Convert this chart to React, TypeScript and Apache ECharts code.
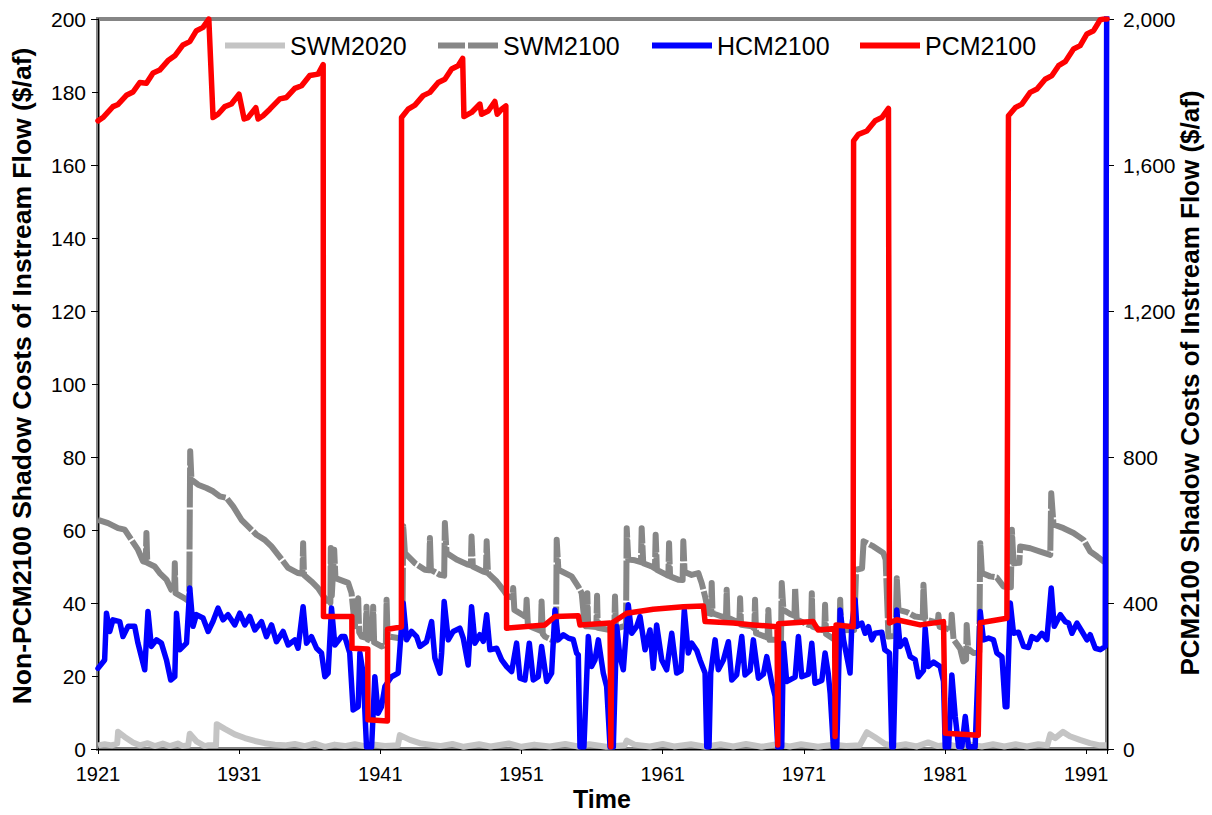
import React, { useEffect, useRef } from "react";
import * as echarts from "echarts";

const FONT = "'Liberation Sans', Arial, Helvetica, sans-serif";

// Time axis runs in years; plotted as offsets from the first water year.
const BASE_YEAR = 1921;
const LAST_YEAR = 1992.47;
const xTickYears = [1921, 1931, 1941, 1951, 1961, 1971, 1981, 1991];
const leftTicks = [0, 20, 40, 60, 80, 100, 120, 140, 160, 180, 200];
const rightTicks = [0, 400, 800, 1200, 1600, 2000];

const seriesNames = ["SWM2020", "SWM2100", "HCM2100", "PCM2100"];
const seriesColors = ["#c4c4c4", "#878787", "#0000ff", "#ff0000"];

// [year, $/af] — left axis
const swm2020: [number, number][] = [
  [1921.0, 1.0], [1921.47, 1.3], [1921.97, 1.0], [1922.36, 1.5], [1922.42, 4.7], [1922.89, 3.3],
  [1923.48, 1.8], [1923.96, 1.0], [1924.52, 1.6], [1925.02, 0.8], [1925.59, 1.5], [1926.08, 0.8],
  [1926.65, 1.5], [1927.0, 0.8], [1927.39, 1.0], [1927.5, 4.2], [1928.0, 2.0], [1928.56, 0.8],
  [1928.77, 1.0], [1929.36, 1.0], [1929.41, 6.8], [1929.98, 5.5], [1930.69, 4.0], [1931.4, 3.0],
  [1932.11, 2.2], [1932.81, 1.6], [1933.53, 1.2], [1934.23, 1.0], [1934.94, 1.4], [1935.65, 0.8],
  [1936.36, 1.5], [1937.07, 0.6], [1937.76, 1.2], [1938.48, 0.8], [1939.19, 1.3], [1939.9, 0.8],
  [1940.61, 1.2], [1941.32, 0.8], [1942.24, 1.0], [1942.38, 3.8], [1943.09, 2.5], [1943.8, 1.6],
  [1944.51, 1.2], [1945.22, 0.8], [1946.1, 1.4], [1946.9, 0.6], [1948.0, 1.3], [1948.8, 0.7],
  [1950.1, 1.5], [1951.0, 0.6], [1951.9, 1.2], [1953.0, 0.7], [1954.1, 1.4], [1955.0, 0.7],
  [1955.8, 1.3], [1957.0, 0.6], [1958.3, 1.0], [1958.45, 2.3], [1959.0, 1.2], [1960.1, 0.7],
  [1961.0, 1.4], [1961.8, 0.7], [1963.0, 1.3], [1964.0, 0.6], [1965.1, 1.3], [1966.0, 0.7],
  [1966.9, 1.4], [1968.0, 0.6], [1969.1, 1.3], [1970.0, 0.7], [1970.8, 1.3], [1972.0, 0.6],
  [1973.1, 1.2], [1974.0, 0.8], [1974.95, 1.0], [1975.46, 4.6], [1976.04, 3.2], [1976.75, 1.4],
  [1977.46, 0.8], [1978.2, 1.3], [1979.0, 0.7], [1979.8, 1.8], [1980.5, 0.8], [1981.3, 1.2],
  [1982.0, 0.6], [1982.8, 1.2], [1983.6, 0.7], [1984.4, 1.3], [1985.2, 0.7], [1986.0, 1.3],
  [1986.8, 0.7], [1987.6, 1.3], [1988.24, 1.0], [1988.45, 4.0], [1988.8, 3.0], [1989.35, 4.7],
  [1989.84, 3.5], [1990.55, 2.5], [1991.26, 1.6], [1991.97, 1.0], [1992.42, 1.0],
];

const swm2100: [number, number][] = [
  [1921.0, 62.8], [1921.71, 61.9], [1922.42, 60.5], [1922.89, 60.1], [1923.37, 57.3], [1923.83, 54.6],
  [1924.19, 51.4], [1924.38, 51.2], [1924.43, 59.2], [1924.49, 51.0], [1925.02, 50.0], [1925.37, 48.2],
  [1925.85, 46.4], [1926.2, 43.6], [1926.4, 43.2], [1926.44, 50.9], [1926.49, 42.7], [1927.14, 41.3],
  [1927.46, 40.4], [1927.53, 81.6], [1927.62, 73.8], [1928.09, 72.4], [1928.68, 71.5], [1929.15, 70.6],
  [1929.63, 69.2], [1930.1, 68.8], [1930.57, 66.5], [1931.16, 62.8], [1931.63, 61.0], [1932.23, 58.7],
  [1932.81, 57.3], [1933.29, 55.5], [1933.76, 53.2], [1934.47, 49.6], [1935.17, 48.2], [1935.48, 48.0],
  [1935.53, 56.4], [1935.59, 47.7], [1936.12, 45.9], [1936.59, 44.1], [1937.07, 41.3], [1937.3, 39.5],
  [1937.46, 40.0], [1937.49, 55.1], [1937.56, 42.0], [1937.73, 54.6], [1937.82, 46.8], [1938.72, 45.5],
  [1938.96, 42.7], [1939.19, 33.6], [1939.43, 41.3], [1939.5, 32.0], [1939.67, 30.8], [1939.94, 30.5],
  [1940.02, 39.0], [1940.1, 30.0], [1940.43, 29.5], [1940.49, 39.0], [1940.56, 29.2], [1941.08, 28.1],
  [1941.39, 28.5], [1941.44, 40.9], [1941.51, 31.0], [1941.67, 30.8], [1942.26, 30.4], [1942.56, 30.5],
  [1942.62, 61.0], [1942.74, 53.7], [1943.45, 50.9], [1944.15, 49.1], [1944.46, 49.0], [1944.51, 57.8],
  [1944.58, 49.1], [1945.22, 47.7], [1945.52, 47.5], [1945.57, 61.9], [1945.69, 53.7], [1946.4, 51.9],
  [1947.22, 50.5], [1947.41, 50.3], [1947.46, 58.2], [1947.55, 50.0], [1948.29, 48.6], [1948.48, 48.4],
  [1948.53, 56.9], [1948.62, 48.2], [1949.24, 45.9], [1949.7, 43.6], [1950.03, 41.8], [1950.36, 41.5],
  [1950.41, 44.1], [1950.49, 38.1], [1951.17, 36.5], [1951.31, 36.2], [1951.36, 40.9], [1951.45, 34.0],
  [1951.6, 33.6], [1952.3, 32.5], [1952.37, 32.3], [1952.42, 40.4], [1952.51, 31.5], [1952.66, 30.8],
  [1953.13, 29.9], [1953.44, 29.7], [1953.49, 57.3], [1953.61, 49.1], [1954.55, 47.3], [1955.02, 44.5],
  [1955.26, 42.7], [1955.46, 34.5], [1955.55, 33.6], [1955.62, 33.6], [1955.66, 42.7], [1955.72, 33.6],
  [1956.3, 33.4], [1956.35, 42.0], [1956.4, 33.2], [1957.27, 32.6], [1957.57, 32.5], [1957.62, 41.8],
  [1957.69, 33.0], [1958.21, 33.6], [1958.4, 33.8], [1958.45, 60.5], [1958.56, 51.9], [1959.03, 51.7],
  [1959.46, 51.2], [1959.51, 60.5], [1959.62, 50.9], [1960.22, 50.0], [1960.45, 49.5], [1960.5, 58.7],
  [1960.59, 49.1], [1961.28, 47.7], [1961.4, 47.5], [1961.45, 56.4], [1961.52, 47.3], [1962.1, 46.4],
  [1962.41, 46.3], [1962.46, 56.9], [1962.55, 48.5], [1963.05, 47.7], [1963.52, 48.2], [1963.76, 45.5],
  [1964.0, 41.8], [1964.24, 37.2], [1964.43, 37.0], [1964.47, 45.5], [1964.53, 37.2], [1965.18, 36.3],
  [1965.48, 36.0], [1965.53, 43.6], [1965.59, 36.0], [1966.24, 34.9], [1966.43, 34.5], [1966.48, 41.3],
  [1966.55, 34.0], [1967.31, 33.6], [1967.49, 33.0], [1967.54, 40.9], [1967.61, 31.7], [1968.25, 30.8],
  [1968.43, 30.5], [1968.48, 38.1], [1968.57, 29.9], [1969.08, 29.9], [1969.38, 29.9], [1969.43, 45.5],
  [1969.55, 38.1], [1970.02, 37.0], [1970.33, 36.5], [1970.38, 44.1], [1970.49, 35.5], [1971.32, 34.0],
  [1971.51, 34.0], [1971.56, 42.7], [1971.62, 33.5], [1972.27, 32.6], [1972.45, 32.5], [1972.5, 39.5],
  [1972.57, 31.5], [1973.21, 29.9], [1973.52, 29.8], [1973.57, 40.9], [1973.64, 32.5], [1974.27, 32.6],
  [1974.56, 32.6], [1974.7, 49.1], [1975.12, 49.5], [1975.23, 56.9], [1975.93, 55.5], [1976.63, 53.7],
  [1976.79, 51.9], [1976.99, 30.8], [1977.49, 31.0], [1977.58, 46.8], [1977.7, 38.1], [1978.29, 37.5],
  [1978.88, 36.3], [1979.42, 36.0], [1979.47, 45.0], [1979.59, 35.5], [1980.18, 34.9], [1980.48, 34.5],
  [1980.53, 36.8], [1980.61, 33.5], [1981.12, 33.0], [1981.42, 32.5], [1981.47, 36.8], [1981.6, 30.0],
  [1982.07, 27.5], [1982.29, 24.0], [1982.49, 24.5], [1982.53, 34.0], [1982.63, 27.5], [1983.01, 26.3],
  [1983.42, 26.5], [1983.49, 56.4], [1983.61, 48.2], [1984.19, 47.3], [1984.66, 47.0], [1985.14, 44.5],
  [1985.66, 44.3], [1985.73, 60.1], [1985.85, 50.9], [1986.26, 51.0], [1986.32, 55.5], [1987.03, 55.0],
  [1987.74, 54.1], [1988.45, 53.2], [1988.52, 70.1], [1988.68, 61.5], [1989.39, 60.5], [1990.1, 59.2],
  [1990.81, 57.3], [1991.28, 54.1], [1991.76, 52.8], [1992.23, 51.4], [1992.42, 51.0],
];

const hcm2100: [number, number][] = [
  [1921.0, 22.1], [1921.47, 24.4], [1921.6, 37.2], [1921.83, 32.2], [1922.06, 35.4], [1922.54, 34.9],
  [1922.77, 30.8], [1923.13, 33.6], [1923.6, 33.6], [1923.83, 29.0], [1924.31, 21.7], [1924.54, 37.7],
  [1924.78, 28.1], [1925.14, 29.9], [1925.49, 29.0], [1925.85, 24.4], [1926.15, 18.9], [1926.44, 19.8],
  [1926.56, 37.2], [1926.79, 27.2], [1927.27, 29.0], [1927.5, 44.1], [1927.73, 33.6], [1927.97, 36.8],
  [1928.44, 35.9], [1928.8, 32.2], [1929.15, 35.0], [1929.5, 38.6], [1929.86, 35.4], [1930.21, 36.8],
  [1930.69, 34.0], [1931.04, 37.2], [1931.4, 34.0], [1931.75, 36.3], [1932.11, 32.6], [1932.58, 34.9],
  [1932.93, 30.8], [1933.29, 34.0], [1933.64, 29.4], [1934.11, 32.2], [1934.47, 28.5], [1934.94, 29.9],
  [1935.17, 27.6], [1935.53, 39.0], [1935.77, 29.0], [1936.12, 30.8], [1936.48, 27.6], [1936.83, 26.3],
  [1937.07, 19.8], [1937.3, 20.8], [1937.54, 38.6], [1937.78, 28.5], [1938.25, 30.8], [1938.48, 30.8],
  [1938.83, 26.3], [1939.07, 10.7], [1939.43, 11.6], [1939.55, 26.3], [1939.78, 20.8], [1940.02, 0.6],
  [1940.38, 0.6], [1940.61, 19.8], [1940.84, 9.8], [1941.08, 11.6], [1941.32, 17.1], [1941.79, 19.8],
  [1942.26, 20.8], [1942.62, 40.0], [1942.86, 29.9], [1943.21, 32.2], [1943.57, 30.8], [1943.8, 28.1],
  [1944.27, 29.4], [1944.63, 34.9], [1944.86, 24.9], [1945.22, 20.8], [1945.34, 26.3], [1945.52, 40.4],
  [1945.81, 29.9], [1946.16, 32.2], [1946.63, 33.1], [1946.87, 30.4], [1947.22, 23.0], [1947.46, 39.0],
  [1947.7, 29.0], [1948.05, 31.3], [1948.29, 29.5], [1948.53, 36.8], [1948.76, 27.2], [1949.24, 27.6],
  [1949.59, 24.4], [1949.94, 22.6], [1950.3, 21.2], [1950.65, 29.0], [1950.89, 19.4], [1951.24, 18.9],
  [1951.55, 29.0], [1951.83, 18.9], [1952.18, 19.8], [1952.42, 28.1], [1952.78, 18.5], [1953.13, 20.8],
  [1953.37, 38.1], [1953.6, 29.9], [1953.96, 31.3], [1954.31, 30.4], [1954.66, 30.0], [1954.9, 26.3],
  [1955.02, 25.8], [1955.14, 0.6], [1955.42, 0.6], [1955.73, 30.8], [1955.96, 22.6], [1956.2, 24.4],
  [1956.44, 29.9], [1956.79, 20.8], [1957.03, 17.1], [1957.27, 0.6], [1957.5, 0.6], [1957.74, 33.6],
  [1957.97, 25.3], [1958.21, 21.7], [1958.56, 39.5], [1958.8, 31.7], [1959.16, 33.6], [1959.39, 36.3],
  [1959.75, 27.2], [1960.1, 32.6], [1960.33, 22.1], [1960.57, 34.0], [1960.93, 24.4], [1961.28, 21.7],
  [1961.64, 31.7], [1961.99, 20.8], [1962.3, 21.5], [1962.53, 38.1], [1962.81, 26.3], [1963.05, 29.0],
  [1963.41, 27.0], [1963.64, 24.4], [1964.0, 20.8], [1964.12, 0.6], [1964.28, 0.6], [1964.4, 20.8],
  [1964.71, 29.9], [1964.94, 21.7], [1965.3, 24.4], [1965.65, 29.4], [1965.89, 18.9], [1966.24, 20.3],
  [1966.6, 30.8], [1966.83, 20.3], [1967.19, 21.5], [1967.42, 29.9], [1967.78, 19.4], [1968.13, 20.5],
  [1968.37, 25.3], [1968.73, 18.0], [1968.96, 14.5], [1969.15, 0.6], [1969.43, 0.6], [1969.55, 29.0],
  [1969.78, 18.5], [1970.38, 19.7], [1970.61, 30.8], [1970.85, 19.8], [1971.32, 20.5], [1971.56, 29.0],
  [1971.79, 18.0], [1972.27, 18.8], [1972.5, 26.3], [1972.72, 20.8], [1972.86, 15.3], [1973.09, 0.6],
  [1973.33, 0.6], [1973.57, 38.1], [1973.81, 29.9], [1974.27, 20.8], [1974.39, 33.6], [1974.63, 40.9],
  [1974.75, 33.6], [1975.1, 34.5], [1975.34, 31.7], [1975.57, 33.5], [1975.81, 29.9], [1976.04, 31.7],
  [1976.52, 32.0], [1976.73, 27.2], [1977.06, 26.3], [1977.23, 0.6], [1977.34, 0.6], [1977.58, 38.1],
  [1977.82, 28.1], [1978.17, 29.9], [1978.53, 25.3], [1978.88, 24.5], [1979.11, 19.8], [1979.47, 21.5],
  [1979.59, 33.1], [1979.82, 22.6], [1980.18, 23.8], [1980.65, 22.6], [1980.89, 18.5], [1981.01, 0.6],
  [1981.25, 0.6], [1981.48, 20.3], [1981.72, 8.9], [1981.96, 0.6], [1982.19, 0.6], [1982.43, 8.9],
  [1982.66, 0.6], [1983.13, 0.6], [1983.49, 37.7], [1983.72, 29.9], [1984.08, 30.4], [1984.43, 29.9],
  [1984.67, 26.3], [1985.03, 25.3], [1985.26, 11.6], [1985.38, 11.6], [1985.62, 40.0], [1985.85, 31.7],
  [1986.2, 32.0], [1986.56, 28.1], [1986.91, 27.8], [1987.15, 30.8], [1987.51, 30.0], [1987.86, 31.7],
  [1988.21, 30.0], [1988.52, 44.1], [1988.73, 33.6], [1989.16, 36.8], [1989.51, 34.9], [1989.75, 34.5],
  [1989.99, 31.7], [1990.34, 34.5], [1990.7, 32.2], [1991.05, 29.9], [1991.28, 31.3], [1991.64, 27.6],
  [1991.99, 27.2], [1992.34, 28.1], [1992.47, 240],
];

// [year, $/af] — right axis
const pcm2100: [number, number][] = [
  [1921.0, 1721], [1921.35, 1730], [1922.06, 1760], [1922.42, 1766], [1923.01, 1791], [1923.48, 1800],
  [1923.96, 1826], [1924.43, 1824], [1924.9, 1852], [1925.37, 1860], [1925.96, 1886], [1926.44, 1899],
  [1927.02, 1929], [1927.5, 1938], [1927.97, 1968], [1928.44, 1977], [1928.85, 2000], [1929.15, 1730],
  [1929.5, 1739], [1929.98, 1760], [1930.45, 1767], [1930.99, 1794], [1931.35, 1726], [1931.63, 1730],
  [1932.18, 1757], [1932.34, 1726], [1932.69, 1735], [1933.17, 1753], [1933.88, 1781], [1934.35, 1785],
  [1934.94, 1810], [1935.42, 1817], [1936.0, 1845], [1936.59, 1849], [1936.95, 1875], [1936.97, 363],
  [1938.98, 363], [1938.99, 276], [1940.11, 274], [1940.12, 80], [1941.5, 77], [1941.51, 328],
  [1942.49, 334], [1942.5, 1730], [1942.97, 1753], [1943.45, 1764], [1944.03, 1790], [1944.51, 1799],
  [1945.1, 1826], [1945.57, 1835], [1946.05, 1863], [1946.51, 1872], [1946.83, 1892], [1946.92, 1733],
  [1947.46, 1744], [1948.05, 1767], [1948.17, 1739], [1948.64, 1748], [1949.11, 1774], [1949.28, 1739],
  [1949.59, 1753], [1949.89, 1762], [1949.94, 331], [1952.66, 340], [1953.37, 363], [1955.02, 365],
  [1955.14, 340], [1957.27, 345], [1957.33, 6], [1957.4, 345], [1958.45, 372], [1960.33, 383],
  [1962.46, 390], [1963.88, 392], [1964.0, 349], [1966.0, 345], [1967.42, 340], [1969.1, 335],
  [1969.15, 11], [1969.21, 343], [1971.65, 349], [1972.01, 326], [1973.18, 330], [1973.21, 34],
  [1973.28, 340], [1974.49, 335], [1974.52, 1666], [1974.86, 1684], [1975.46, 1693], [1976.05, 1721],
  [1976.52, 1730], [1976.99, 1755], [1977.06, 345], [1977.58, 354], [1979.24, 340], [1980.89, 349],
  [1981.01, 43], [1983.35, 38], [1983.49, 346], [1985.38, 358], [1985.49, 1735], [1985.97, 1757],
  [1986.44, 1767], [1987.03, 1799], [1987.51, 1808], [1988.09, 1835], [1988.57, 1845], [1989.04, 1872],
  [1989.51, 1883], [1990.1, 1918], [1990.57, 1927], [1991.05, 1959], [1991.52, 1968], [1991.99, 1998],
  [1992.23, 2000], [1992.47, 2000],
];

const toPlot = (pts: [number, number][]) =>
  pts.map(([yr, v]) => [Math.round((yr - BASE_YEAR) * 1000) / 1000, v]);

const withCommas = (v: number) => String(v).replace(/\B(?=(\d{3})+(?!\d))/g, ",");

// legend keys: flat 60x6 bars, the SWM2100 one broken like its dashed line
const legendIcons = [
  "rect",
  "path://M0,0H27V6H0Z M30,0H60V6H30Z",
  "rect",
  "rect",
];
// left edge of each legend key
const legendLefts = [225, 438, 652, 860];

export default function App() {
  const ref = useRef<HTMLDivElement>(null);

  useEffect(() => {
    if (!ref.current) return;
    const chart = echarts.init(ref.current, null, { renderer: "svg" });

    const tickLabelStyle = { color: "#000", fontFamily: FONT };
    const titleStyle = { fill: "#000", fontFamily: FONT, fontWeight: "bold" };
    const centred = {
      align: "center",
      verticalAlign: "middle",
      textAlign: "center",
      textVerticalAlign: "middle",
    };

    chart.setOption({
      animation: false,
      backgroundColor: "#ffffff",
      grid: {
        left: 98,
        right: 105,
        top: 19,
        bottom: 66,
        show: true,
        borderColor: "#858585",
        borderWidth: 4,
        backgroundColor: "transparent",
      },
      legend: seriesNames.map((name, i) => ({
        data: [{ name, icon: legendIcons[i] }],
        left: legendLefts[i],
        top: 33,
        padding: 0,
        itemWidth: 60,
        itemHeight: 6,
        textStyle: { fontSize: 25, color: "#000", fontFamily: FONT },
      })),
      xAxis: {
        type: "value",
        min: 0,
        max: LAST_YEAR - BASE_YEAR,
        interval: 10,
        axisLine: { onZero: false, lineStyle: { color: "#000", width: 1 } },
        axisTick: { length: 5, lineStyle: { color: "#000" } },
        axisLabel: {
          ...tickLabelStyle,
          fontSize: 20,
          margin: 15,
          formatter: (v: number) => {
            const yr = Math.round((BASE_YEAR + v) * 1000) / 1000;
            return xTickYears.includes(yr) ? String(yr) : "";
          },
        },
        splitLine: { show: false },
      },
      yAxis: [
        {
          type: "value",
          position: "left",
          min: leftTicks[0],
          max: leftTicks[leftTicks.length - 1],
          interval: leftTicks[1] - leftTicks[0],
          axisLine: { show: true, onZero: false, lineStyle: { color: "#000", width: 1 } },
          axisTick: { show: true, length: 6, lineStyle: { color: "#000" } },
          axisLabel: { ...tickLabelStyle, fontSize: 21, margin: 12 },
          splitLine: { show: false },
        },
        {
          type: "value",
          position: "right",
          min: rightTicks[0],
          max: rightTicks[rightTicks.length - 1],
          interval: rightTicks[1] - rightTicks[0],
          axisLine: { show: true, onZero: false, lineStyle: { color: "#000", width: 1 } },
          axisTick: { show: true, length: 7, lineStyle: { color: "#000" } },
          axisLabel: { ...tickLabelStyle, fontSize: 21, margin: 16, formatter: withCommas },
          splitLine: { show: false },
        },
        {
          // inner half of the crossing ticks on the right axis
          type: "value",
          position: "right",
          min: rightTicks[0],
          max: rightTicks[rightTicks.length - 1],
          interval: rightTicks[1] - rightTicks[0],
          axisLine: { show: false },
          axisTick: { show: true, inside: true, length: 7, lineStyle: { color: "#000" } },
          axisLabel: { show: false },
          splitLine: { show: false },
        },
      ],
      series: [
        {
          name: "SWM2020",
          type: "line",
          yAxisIndex: 0,
          symbol: "none",
          data: toPlot(swm2020),
          lineStyle: { color: seriesColors[0], width: 6, join: "round" },
          itemStyle: { color: seriesColors[0] },
          z: 2,
        },
        {
          name: "SWM2100",
          type: "line",
          yAxisIndex: 0,
          symbol: "none",
          data: toPlot(swm2100),
          lineStyle: { color: seriesColors[1], width: 6, type: [40, 2], join: "round" },
          itemStyle: { color: seriesColors[1] },
          z: 3,
        },
        {
          name: "HCM2100",
          type: "line",
          yAxisIndex: 0,
          symbol: "none",
          data: toPlot(hcm2100),
          lineStyle: { color: seriesColors[2], width: 5.5, join: "round", cap: "round" },
          itemStyle: { color: seriesColors[2] },
          z: 4,
        },
        {
          name: "PCM2100",
          type: "line",
          yAxisIndex: 1,
          symbol: "none",
          data: toPlot(pcm2100),
          lineStyle: { color: seriesColors[3], width: 5.5, join: "round", cap: "round" },
          itemStyle: { color: seriesColors[3] },
          z: 5,
        },
      ],
      graphic: [
        {
          type: "text",
          x: 22,
          y: 376,
          rotation: Math.PI / 2,
          style: {
            ...titleStyle,
            ...centred,
            fontSize: 26.5,
            text: "Non-PCM2100 Shadow Costs of Instream Flow ($/af)",
          },
        },
        {
          type: "text",
          x: 1190,
          y: 383,
          rotation: Math.PI / 2,
          style: {
            ...titleStyle,
            ...centred,
            fontSize: 26,
            text: "PCM2100 Shadow Costs of Instream Flow ($/af)",
          },
        },
        {
          type: "text",
          x: 602,
          y: 799,
          style: { ...titleStyle, ...centred, fontSize: 25, text: "Time" },
        },
      ],
    });

    return () => chart.dispose();
  }, []);

  return (
    <div
      ref={ref}
      style={{ position: "absolute", left: 0, top: 0, width: 1212, height: 815, background: "#fff" }}
    />
  );
}
